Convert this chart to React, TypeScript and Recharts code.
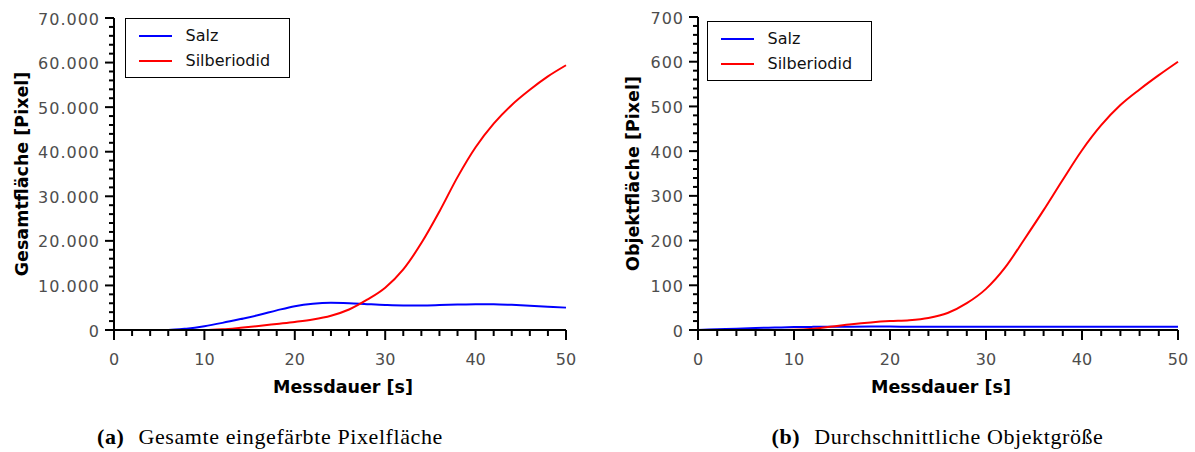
import React from "react"
import { LineChart, Line, XAxis, YAxis, Legend } from "recharts"

// Messzeitpunkte [s]
const seconds = [0, 2, 4, 6, 8, 10, 12, 14, 16, 18, 20, 22, 24, 26, 28, 30, 32, 34, 36, 38, 40, 42, 44, 46, 48, 50]

// (a) Gesamte eingefärbte Pixelfläche
const salzGesamt = [0, 0, 0, 0, 300, 850, 1600, 2450, 3350, 4400, 5350, 5900, 6100, 6000, 5800, 5620, 5520, 5520, 5600, 5720, 5800, 5780, 5640, 5450, 5240, 5020]
const silberGesamt = [0, 0, 0, 0, 0, 0, 150, 500, 900, 1350, 1800, 2350, 3200, 4600, 6800, 9500, 13600, 19500, 26600, 34300, 41000, 46300, 50500, 53900, 56900, 59400]

// (b) Durchschnittliche Objektgröße
const salzObjekt = [0, 1.5, 3, 4.5, 5.5, 6.5, 7, 7.3, 7.5, 7.6, 7.6, 7.5, 7.5, 7.5, 7.5, 7.5, 7.5, 7.5, 7.5, 7.5, 7.5, 7.4, 7.4, 7.3, 7.3, 7.2]
const silberObjekt = [0, 0, 0, 0, 0, 0.5, 3, 8, 13, 17, 20, 22, 27, 38, 60, 92, 140, 203, 268, 336, 402, 458, 503, 538, 570, 600]

const seriesNames = ["Salz", "Silberiodid"]
const seriesColors = ["#0000ff", "#ff0000"]

const xTicks = Array.from({ length: 26 }, (_, i) => i * 2)
const yTicksGesamt = Array.from({ length: 36 }, (_, i) => i * 2000)
const yTicksObjekt = Array.from({ length: 36 }, (_, i) => i * 20)

const dataGesamt = seconds.map((t, i) => ({ t, salz: salzGesamt[i], silber: silberGesamt[i] }))
const dataObjekt = seconds.map((t, i) => ({ t, salz: salzObjekt[i], silber: silberObjekt[i] }))

const tickFont = "DejaVu Sans"
const tickColor = "#4d4d4d"

const formatDe = (v: number) => String(v).replace(/\B(?=(\d{3})+(?!\d))/g, ".")

const XTick = (props: any) => {
  const { x, y, payload } = props
  const major = payload.value % 10 === 0
  return (
    <g>
      <line x1={x} x2={x} y1={y} y2={y + (major ? 10 : 6)} stroke="#000" strokeWidth={2} />
      {major && (
        <text x={x} y={y + 29} textAnchor="middle" dominantBaseline="central" fill={tickColor} fontSize={16} fontFamily={tickFont}>
          {payload.value}
        </text>
      )}
    </g>
  )
}

const makeYTick = (majorStep: number, format: (v: number) => string) => (props: any) => {
  const { x, y, payload } = props
  const major = payload.value % majorStep === 0
  return (
    <g>
      <line x1={x - (major ? 9 : 5)} x2={x} y1={y} y2={y} stroke="#000" strokeWidth={2} />
      {major && (
        <text x={x - 14} y={y + 1} textAnchor="end" dominantBaseline="central" fill={tickColor} fontSize={16} fontFamily={tickFont} letterSpacing={1}>
          {format(payload.value)}
        </text>
      )}
    </g>
  )
}

const yTitle = (text: string, cx: number) => (props: any) => {
  const { viewBox } = props
  const cy = viewBox.y + viewBox.height / 2
  return (
    <text transform={`translate(${cx}, ${cy}) rotate(-90)`} textAnchor="middle" dominantBaseline="central" fontSize={17.5} fontWeight="bold" fontFamily={tickFont} fill="#000">
      {text}
    </text>
  )
}

const xTitle = (text: string) => (props: any) => {
  const { viewBox } = props
  return (
    <text x={viewBox.x + viewBox.width / 2 + 3} y={viewBox.y + 57} textAnchor="middle" dominantBaseline="central" fontSize={17.5} fontWeight="bold" fontFamily={tickFont} fill="#000">
      {text}
    </text>
  )
}

const LegendBox = ({ payload }: any) => (
  <div
    style={{
      width: 165,
      height: 60,
      border: "1.5px solid #000",
      boxSizing: "border-box",
      background: "#fff",
      position: "relative",
      fontFamily: tickFont,
      fontSize: 16,
      color: "#111",
    }}
  >
    {(payload || []).map((entry: any, i: number) => (
      <div key={entry.value} style={{ position: "absolute", left: 0, top: 6.5 + i * 25, height: 20, display: "flex", alignItems: "center", whiteSpace: "nowrap" }}>
        <span style={{ display: "inline-block", width: 33, height: 2, background: entry.color, marginLeft: 12.5 }} />
        <span style={{ marginLeft: 14 }}>{entry.value}</span>
      </div>
    ))}
  </div>
)

function Panel(props: {
  data: any[]
  width: number
  top: number
  right: number
  yWidth: number
  yMax: number
  yTicks: number[]
  yMajor: number
  yFormat: (v: number) => string
  yLabel: string
  yLabelX: number
  legendLeft: number
  legendTop: number
}) {
  return (
    <LineChart width={props.width} height={400} data={props.data} margin={{ top: props.top, right: props.right, bottom: 0, left: 0 }}>
      <XAxis
        dataKey="t"
        type="number"
        domain={[0, 50]}
        ticks={xTicks}
        interval={0}
        height={70}
        tickSize={0}
        tickMargin={0}
        tickLine={false}
        tick={XTick}
        axisLine={{ stroke: "#000", strokeWidth: 2 }}
        label={{ content: xTitle("Messdauer [s]") }}
      />
      <YAxis
        type="number"
        domain={[0, props.yMax]}
        ticks={props.yTicks}
        interval={0}
        width={props.yWidth}
        tickSize={0}
        tickMargin={0}
        tickLine={false}
        tick={makeYTick(props.yMajor, props.yFormat)}
        axisLine={{ stroke: "#000", strokeWidth: 2 }}
        label={{ content: yTitle(props.yLabel, props.yLabelX) }}
      />
      <Legend
        layout="vertical"
        align="center"
        verticalAlign="middle"
        content={LegendBox}
        wrapperStyle={{ left: props.legendLeft, top: props.legendTop, width: "auto", height: "auto" }}
      />
      <Line type="monotone" dataKey="salz" name={seriesNames[0]} stroke={seriesColors[0]} strokeWidth={2} dot={false} isAnimationActive={false} />
      <Line type="monotone" dataKey="silber" name={seriesNames[1]} stroke={seriesColors[1]} strokeWidth={2} dot={false} isAnimationActive={false} />
    </LineChart>
  )
}

const captionStyle: React.CSSProperties = {
  position: "absolute",
  top: 426,
  fontFamily: "'Liberation Serif', serif",
  fontSize: 22,
  letterSpacing: 0.6,
  lineHeight: "21px",
  textAlign: "center",
  color: "#000",
  whiteSpace: "nowrap",
}

export default function App() {
  return (
    <div style={{ position: "absolute", left: 0, top: 0, width: 1195, height: 452, background: "#fff", overflow: "hidden" }}>
      <div style={{ position: "absolute", left: 0, top: 0 }}>
        <Panel
          data={dataGesamt}
          width={600}
          top={18}
          right={34}
          yWidth={114}
          yMax={70000}
          yTicks={yTicksGesamt}
          yMajor={10000}
          yFormat={formatDe}
          yLabel="Gesamtfläche [Pixel]"
          yLabelX={22}
          legendLeft={125}
          legendTop={18}
        />
      </div>
      <div style={{ position: "absolute", left: 600, top: 0 }}>
        <Panel
          data={dataObjekt}
          width={595}
          top={17}
          right={17}
          yWidth={98}
          yMax={700}
          yTicks={yTicksObjekt}
          yMajor={100}
          yFormat={(v) => String(v)}
          yLabel="Objektfläche [Pixel]"
          yLabelX={32.5}
          legendLeft={107}
          legendTop={21}
        />
      </div>
      <div style={{ ...captionStyle, left: 0, width: 540 }}>
        <b>(a)</b>
        <span style={{ marginLeft: 14 }}>Gesamte eingefärbte Pixelfläche</span>
      </div>
      <div style={{ ...captionStyle, left: 680, width: 515 }}>
        <b>(b)</b>
        <span style={{ marginLeft: 14 }}>Durchschnittliche Objektgröße</span>
      </div>
    </div>
  )
}
